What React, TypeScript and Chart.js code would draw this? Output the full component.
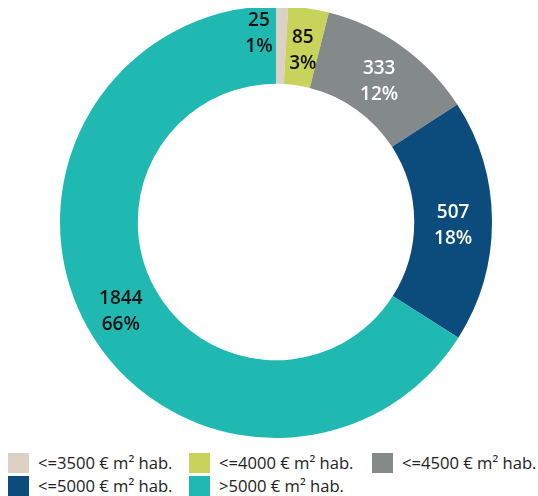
import React, { useEffect, useRef } from "react";
import { Chart, registerables } from "chart.js";

Chart.register(...registerables);

const categories = [
  "<=3500 € m² hab.",
  "<=4000 € m² hab.",
  "<=4500 € m² hab.",
  "<=5000 € m² hab.",
  ">5000 € m² hab.",
];
const values = [25, 85, 333, 507, 1844];
const colors = ["#DDD0C4", "#C8D35B", "#84898A", "#0B4C7C", "#20B9B1"];
const labelColors = ["#111111", "#111111", "#FFFFFF", "#FFFFFF", "#111111"];

const FONT = "'Open Sans', 'Noto Sans', sans-serif";

const labelPlugin = {
  id: "arcLabels",
  afterDatasetsDraw(chart: any) {
    const ctx = chart.ctx;
    const meta = chart.getDatasetMeta(0);
    const data = chart.data.datasets[0].data as number[];
    const total = data.reduce((a, b) => a + b, 0);
    ctx.save();
    ctx.font = `600 19px ${FONT}`;
    ctx.textAlign = "center";
    ctx.textBaseline = "middle";
    meta.data.forEach((arc: any, i: number) => {
      const pos = arc.tooltipPosition();
      let x = pos.x;
      let y = pos.y + 4;
      const share = data[i] / total;
      if (share < 0.02) {
        // tiny slice: label placed just beside it
        x -= 22;
        y -= 15;
      }
      ctx.fillStyle = labelColors[i];
      ctx.fillText(String(data[i]), x, y - 13);
      ctx.fillText(Math.round(share * 100) + "%", x, y + 13);
    });
    ctx.restore();
  },
};

export default function App() {
  const ref = useRef<HTMLCanvasElement | null>(null);
  useEffect(() => {
    document.body.style.marginRight = "0px";
    document.body.style.marginBottom = "0px";
    if (!ref.current) return;
    const chart = new Chart(ref.current, {
      type: "doughnut",
      data: {
        labels: categories,
        datasets: [
          {
            data: values,
            backgroundColor: colors,
            borderWidth: 0,
          },
        ],
      },
      options: {
        animation: false,
        responsive: true,
        maintainAspectRatio: false,
        cutout: "64%",
        layout: { padding: { left: 14, right: 0, top: 0, bottom: 0 } },
        plugins: {
          legend: { display: false },
          tooltip: { enabled: false },
        },
      },
      plugins: [labelPlugin],
    });
    return () => chart.destroy();
  }, []);

  return (
    <div style={{ width: 530, fontFamily: FONT }}>
      <div style={{ position: "relative", width: 522, height: 432, marginTop: -2 }}>
        <canvas ref={ref} />
      </div>
      <div
        style={{
          display: "grid",
          gridTemplateColumns: "181px 183px 166px",
          rowGap: 3,
          marginTop: 15,
          width: 530,
        }}
      >
        {categories.map((c, i) => (
          <div key={c} style={{ display: "flex", alignItems: "center", height: 20 }}>
            <span
              style={{
                display: "inline-block",
                width: 21,
                height: 20,
                background: colors[i],
                marginRight: 9,
                flexShrink: 0,
              }}
            />
            <span style={{ fontSize: 16.6, color: "#222", whiteSpace: "nowrap", lineHeight: "20px" }}>{c}</span>
          </div>
        ))}
      </div>
    </div>
  );
}
